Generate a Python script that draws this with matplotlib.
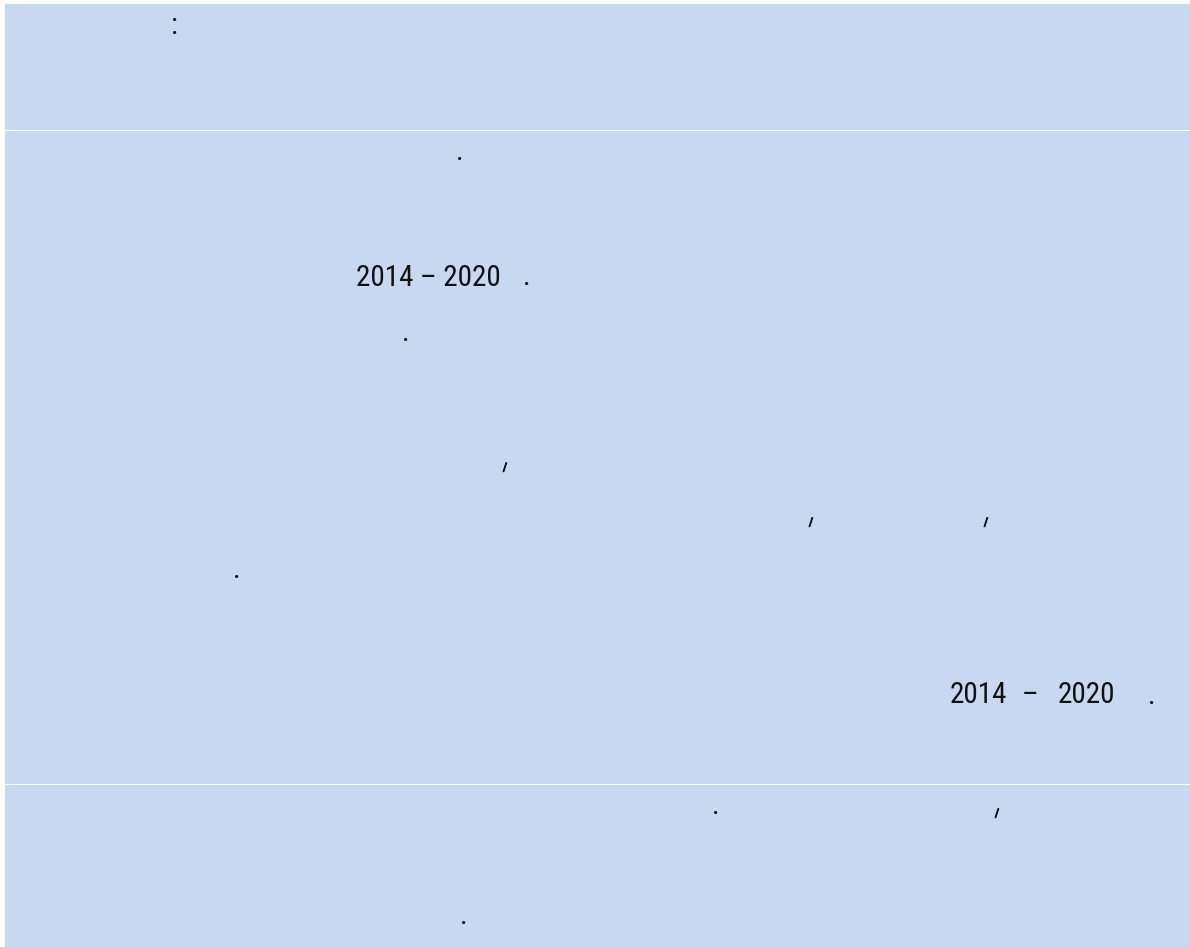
import matplotlib
matplotlib.use("Agg")
import matplotlib.pyplot as plt
import matplotlib.patheffects as pe
from matplotlib.patches import Rectangle
from matplotlib import font_manager
from matplotlib.font_manager import FontProperties

# ---- content (only glyphs that are visible in the reference) ----
row_labels = ["row1", "row2", "row3"]
row1_texts = [":"]
row2_texts = [".", "2014 – 2020", ".", ".", "/", "/", "/", ".",
              "2014", "–", "2020", "."]
row3_texts = [".", "/", "."]

# ---- layout (pixel coordinates, y downward) ----
W, H = 1190, 947
BG = "#C6D9F1"
row_spans = [(4, 129.5), (131, 783.5), (785, 947)]
left_edge = 5

row1_pos = [(174, 34, "center")]
row2_pos = [(460, 160, "center"), (356, 286, "left"), (527, 285, "center"),
            (406, 341, "center"), (505, 471, "center"), (811, 526, "center"),
            (986, 526, "center"), (237, 578, "center"),
            (950, 703, "left"), (1030, 703, "center"), (1058, 703, "left"),
            (1152, 704, "center")]
row3_pos = [(716, 814, "center"), (997, 817, "center"), (464, 924, "center")]


def pick_narrow():
    cands = []
    for f in font_manager.fontManager.ttflist:
        if f.style != "normal":
            continue
        n = f.name.lower()
        fn = f.fname.lower()
        if any(k in fn for k in ("bold", "oblique", "italic", "mono", "light", "thin", "medium", "black")):
            continue
        score = None
        if "liberation sans narrow" in n or "liberationsansnarrow" in fn:
            score = 0
        elif "condensed" in n or "condensed" in fn or "narrow" in fn:
            if "serif" in fn and "sans" not in fn:
                continue
            if "roboto" in fn:
                score = 1
            elif "dejavu" in fn:
                score = 3
            else:
                score = 2
        if score is not None:
            cands.append((score, f.fname))
    if cands:
        cands.sort()
        return FontProperties(fname=cands[0][1])
    return FontProperties(family="Liberation Sans")


fp = pick_narrow()

fig = plt.figure(figsize=(W / 100, H / 100), dpi=100)
fig.patch.set_facecolor("white")
ax = fig.add_axes([0, 0, 1, 1])
ax.set_xlim(0, W)
ax.set_ylim(H, 0)
ax.axis("off")

for lab, (y0, y1) in zip(row_labels, row_spans):
    ax.add_patch(Rectangle((left_edge, y0), W - left_edge, y1 - y0,
                           facecolor=BG, edgecolor="none", gid=lab))

for texts, poss in [(row1_texts, row1_pos), (row2_texts, row2_pos), (row3_texts, row3_pos)]:
    for t, (x, y, ha) in zip(texts, poss):
        p = fp.copy()
        if t == "/":
            p.set_size(8.5)
            ax.text(x, y, t, ha="center", va="baseline", fontproperties=p,
                    color="#111111",
                    path_effects=[pe.withStroke(linewidth=0.7, foreground="#111111")])
        else:
            p.set_size(21)
            ax.text(x, y, t, ha=ha, va="baseline", fontproperties=p,
                    color="#111111")

fig.savefig("out.png", dpi=100, facecolor=fig.get_facecolor())
